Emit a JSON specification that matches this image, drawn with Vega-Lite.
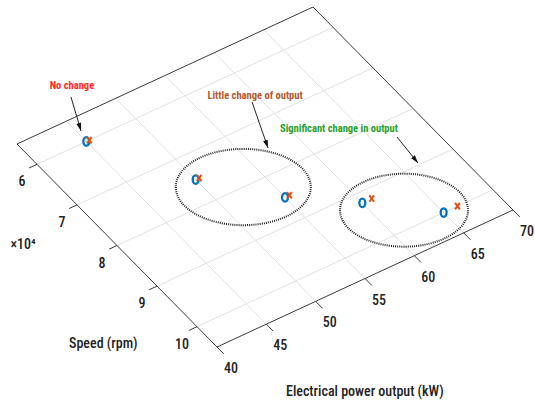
{
  "$schema": "https://vega.github.io/schema/vega-lite/v6.json",
  "width": 535,
  "height": 401,
  "autosize": "none",
  "padding": 0,
  "background": "white",
  "config": {"view": {"stroke": null}},
  "data": {
    "values": [
      {"kind": "grid", "power": 45, "speed": 55000, "power2": 45, "speed2": 105000},
      {"kind": "grid", "power": 50, "speed": 55000, "power2": 50, "speed2": 105000},
      {"kind": "grid", "power": 55, "speed": 55000, "power2": 55, "speed2": 105000},
      {"kind": "grid", "power": 60, "speed": 55000, "power2": 60, "speed2": 105000},
      {"kind": "grid", "power": 65, "speed": 55000, "power2": 65, "speed2": 105000},
      {"kind": "grid", "power": 40, "speed": 60000, "power2": 70, "speed2": 60000},
      {"kind": "grid", "power": 40, "speed": 70000, "power2": 70, "speed2": 70000},
      {"kind": "grid", "power": 40, "speed": 80000, "power2": 70, "speed2": 80000},
      {"kind": "grid", "power": 40, "speed": 90000, "power2": 70, "speed2": 90000},
      {"kind": "grid", "power": 40, "speed": 100000, "power2": 70, "speed2": 100000},
      {"kind": "edge", "power": 40, "speed": 55000, "power2": 70, "speed2": 55000},
      {"kind": "edge", "power": 70, "speed": 55000, "power2": 70, "speed2": 105000},
      {"kind": "edge", "power": 40, "speed": 55000, "power2": 40, "speed2": 105000},
      {"kind": "edge", "power": 40, "speed": 105000, "power2": 70, "speed2": 105000},
      {"kind": "tick", "power": 39.2, "speed": 60000, "power2": 40, "speed2": 60000},
      {"kind": "tick", "power": 39.2, "speed": 70000, "power2": 40, "speed2": 70000},
      {"kind": "tick", "power": 39.2, "speed": 80000, "power2": 40, "speed2": 80000},
      {"kind": "tick", "power": 39.2, "speed": 90000, "power2": 40, "speed2": 90000},
      {"kind": "tick", "power": 39.2, "speed": 100000, "power2": 40, "speed2": 100000},
      {"kind": "tick", "power": 40, "speed": 105000, "power2": 40, "speed2": 106700},
      {"kind": "tick", "power": 45, "speed": 105000, "power2": 45, "speed2": 106700},
      {"kind": "tick", "power": 50, "speed": 105000, "power2": 50, "speed2": 106700},
      {"kind": "tick", "power": 55, "speed": 105000, "power2": 55, "speed2": 106700},
      {"kind": "tick", "power": 60, "speed": 105000, "power2": 60, "speed2": 106700},
      {"kind": "tick", "power": 65, "speed": 105000, "power2": 65, "speed2": 106700},
      {"kind": "tick", "power": 70, "speed": 105000, "power2": 70, "speed2": 106700},
      {"kind": "slabel", "power": 40, "speed": 60000, "label": "6"},
      {"kind": "slabel", "power": 40, "speed": 70000, "label": "7"},
      {"kind": "slabel", "power": 40, "speed": 80000, "label": "8"},
      {"kind": "slabel", "power": 40, "speed": 90000, "label": "9"},
      {"kind": "slabel", "power": 40, "speed": 100000, "label": "10"},
      {"kind": "plabel", "power": 40, "speed": 105000, "label": "40"},
      {"kind": "plabel", "power": 45, "speed": 105000, "label": "45"},
      {"kind": "plabel", "power": 50, "speed": 105000, "label": "50"},
      {"kind": "plabel", "power": 55, "speed": 105000, "label": "55"},
      {"kind": "plabel", "power": 60, "speed": 105000, "label": "60"},
      {"kind": "plabel", "power": 65, "speed": 105000, "label": "65"},
      {"kind": "plabel", "power": 70, "speed": 105000, "label": "70"},
      {"kind": "title", "power": 32.3, "speed": 95570, "label": "Speed (rpm)"},
      {"kind": "title", "power": 47.2, "speed": 124200, "label": "Electrical power output (kW)"},
      {"kind": "exp", "power": 33.5, "speed": 72560, "label": "×10⁴"},
      {"kind": "o", "power": 45, "speed": 60000},
      {"kind": "o", "power": 50, "speed": 75000},
      {"kind": "o", "power": 55, "speed": 85000},
      {"kind": "o", "power": 60, "speed": 92000},
      {"kind": "o", "power": 65, "speed": 100000},
      {"kind": "x", "power": 45.3, "speed": 60000},
      {"kind": "x", "power": 50.35, "speed": 75000},
      {"kind": "x", "power": 55.45, "speed": 85000},
      {"kind": "x", "power": 60.95, "speed": 92000},
      {"kind": "x", "power": 66.4, "speed": 100000},
      {"kind": "note", "group": "none", "power": 47.8, "speed": 49490, "label": "No change"},
      {"kind": "note", "group": "little", "power": 59.86, "speed": 65520, "label": "Little change of output"},
      {"kind": "note", "group": "significant", "power": 63.44, "speed": 77670, "label": "Significant change in output"},
      {"kind": "arrow", "group": "none", "power": 46.98, "speed": 51280, "power2": 45.35, "speed2": 57810},
      {"kind": "arrow", "group": "little", "power": 59.24, "speed": 66300, "power2": 57.2, "speed2": 75330},
      {"kind": "arrow", "group": "significant", "power": 66.93, "speed": 83570, "power2": 66.61, "speed2": 89610},
      {"kind": "ellipse", "group": "little", "power": 52.8, "speed": 80000},
      {"kind": "ellipse", "group": "significant", "power": 62.4, "speed": 96500}
    ]
  },
  "transform": [
    {"calculate": "(datum.power - 40) * 296 / 30 + (datum.speed / 10000 - 5.5) * 40", "as": "u"},
    {"calculate": "(datum.power - 40) * 137 / 30 - (datum.speed / 10000 - 5.5) * 40.6", "as": "v"},
    {"calculate": "(datum.power2 - 40) * 296 / 30 + (datum.speed2 / 10000 - 5.5) * 40", "as": "u2"},
    {"calculate": "(datum.power2 - 40) * 137 / 30 - (datum.speed2 / 10000 - 5.5) * 40.6", "as": "v2"},
    {"calculate": "(atan2(-(datum.u2 - datum.u), datum.v - datum.v2) * 180 / PI + 360) % 360", "as": "ang"}
  ],
  "encoding": {
    "x": {"field": "u", "type": "quantitative", "scale": {"domain": [-17, 518], "nice": false, "zero": false}, "axis": null},
    "y": {"field": "v", "type": "quantitative", "scale": {"domain": [-257, 144], "nice": false, "zero": false}, "axis": null}
  },
  "layer": [
    {
      "transform": [{"filter": "datum.kind == 'grid'"}],
      "mark": {"type": "rule", "stroke": "#e0e0e0", "strokeWidth": 1},
      "encoding": {"x2": {"field": "u2"}, "y2": {"field": "v2"}}
    },
    {
      "transform": [{"filter": "datum.kind == 'edge' || datum.kind == 'tick'"}],
      "mark": {"type": "rule", "stroke": "#3a3a3a", "strokeWidth": 1},
      "encoding": {"x2": {"field": "u2"}, "y2": {"field": "v2"}}
    },
    {
      "transform": [{"filter": "datum.kind == 'slabel'"}],
      "mark": {"type": "text", "dx": -15, "dy": 18, "align": "center", "baseline": "middle", "font": "Roboto Condensed, Liberation Sans", "fontSize": 14, "fontWeight": 500, "fill": "#222222"},
      "encoding": {"text": {"field": "label"}}
    },
    {
      "transform": [{"filter": "datum.kind == 'plabel'"}],
      "mark": {"type": "text", "dx": 14, "dy": 22, "align": "center", "baseline": "middle", "font": "Roboto Condensed, Liberation Sans", "fontSize": 14, "fontWeight": 500, "fill": "#222222"},
      "encoding": {"text": {"field": "label"}}
    },
    {
      "transform": [{"filter": "datum.kind == 'title' || datum.kind == 'exp'"}],
      "mark": {"type": "text", "align": "center", "baseline": "middle", "font": "Roboto Condensed, Liberation Sans", "fontSize": 14, "fontWeight": 500, "fill": "#222222"},
      "encoding": {"text": {"field": "label"}}
    },
    {
      "transform": [{"filter": "datum.kind == 'arrow'"}],
      "mark": {"type": "rule", "stroke": "#222222", "strokeWidth": 1},
      "encoding": {"x2": {"field": "u2"}, "y2": {"field": "v2"}}
    },
    {
      "transform": [{"filter": "datum.kind == 'arrow'"}],
      "mark": {"type": "point", "shape": "M -0.6,-2 L 0.6,-2 L 0,0 Z", "filled": true, "fill": "#111111", "strokeWidth": 0, "size": 64, "opacity": 1},
      "encoding": {
        "x": {"field": "u2", "type": "quantitative"},
        "y": {"field": "v2", "type": "quantitative"},
        "angle": {"field": "ang", "type": "quantitative", "scale": null}
      }
    },
    {
      "transform": [{"filter": "datum.kind == 'ellipse' && datum.group == 'little'"}],
      "mark": {"type": "point", "shape": "M -1,0 A 1,0.565 0 1,0 1,0 A 1,0.565 0 1,0 -1,0 Z", "filled": false, "stroke": "#222222", "strokeWidth": 2, "strokeDash": [1, 1.1], "size": 18225, "opacity": 1}
    },
    {
      "transform": [{"filter": "datum.kind == 'ellipse' && datum.group == 'significant'"}],
      "mark": {"type": "point", "shape": "M -1,0 A 1,0.57 0 1,0 1,0 A 1,0.57 0 1,0 -1,0 Z", "filled": false, "stroke": "#222222", "strokeWidth": 2, "strokeDash": [1, 1.1], "size": 16384, "opacity": 1}
    },
    {
      "transform": [{"filter": "datum.kind == 'o'"}],
      "mark": {"type": "point", "shape": "M -0.7,0 A 0.7,1 0 1,0 0.7,0 A 0.7,1 0 1,0 -0.7,0 Z", "filled": false, "stroke": "#0072BD", "strokeWidth": 2.3, "size": 72, "opacity": 1}
    },
    {
      "transform": [{"filter": "datum.kind == 'x'"}],
      "mark": {"type": "point", "shape": "M -0.6,-0.8 L 0.6,0.8 M -0.6,0.8 L 0.6,-0.8", "filled": false, "stroke": "#D95319", "strokeWidth": 2, "size": 64, "opacity": 1}
    },
    {
      "transform": [{"filter": "datum.kind == 'note'"}],
      "mark": {"type": "text", "align": "center", "baseline": "middle", "font": "Roboto Condensed, Liberation Sans", "fontSize": 10.5, "fontWeight": "bold"},
      "encoding": {
        "text": {"field": "label"},
        "color": {"field": "group", "type": "nominal", "scale": {"domain": ["none", "little", "significant"], "range": ["#ff2a2a", "#b25a2c", "#2aa02a"]}, "legend": null}
      }
    }
  ]
}
